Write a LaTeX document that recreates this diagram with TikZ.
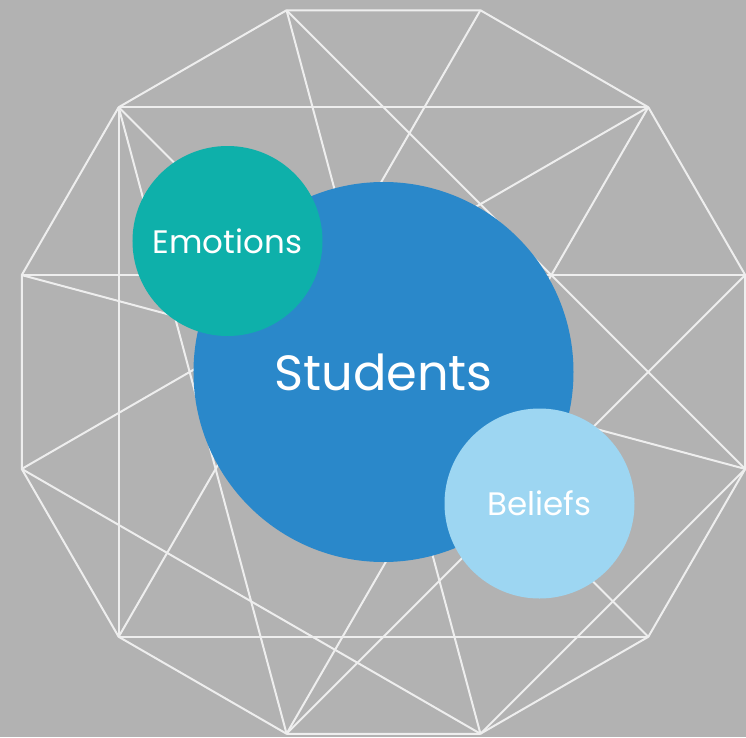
\documentclass[tikz,border=0pt]{standalone}
\usepackage{fontspec}
\setmainfont{Poppins}
\usepackage{tikz}
\usepackage{xcolor}
\definecolor{backgray}{HTML}{B2B2B2}
\definecolor{webline}{HTML}{EEEEEE}
\definecolor{studentblue}{HTML}{2A88CA}
\definecolor{emotionteal}{HTML}{0EB0AA}
\definecolor{beliefblue}{HTML}{9DD6F2}
\tikzstyle{web} = [line width=2pt, color=webline, line join=round]
\tikzstyle{bubble} = [circle, inner sep=0pt, text=white]

\begin{document}
\begin{tikzpicture}[x=1pt,y=1pt]

\fill[backgray] (-383.5,-365) rectangle (362.5,372);
\useasboundingbox (-383.5,-365) rectangle (362.5,372);

%corners of the twelve-sided frame
\foreach \k in {0,...,11}
{
\coordinate (v\k) at (15+30*\k:374.5);
}

\draw[web] (v0) \foreach \k in {1,...,11} { -- (v\k) } -- cycle;

%inner chords
\foreach \a/\b in {4/1,5/0,7/10,4/7,1/6,1/8,3/11,8/0,2/7,3/9,4/8,4/10,5/11,6/9,9/11}
{
\draw[web] (v\a) -- (v\b);
}

\node[bubble, fill=studentblue, minimum size=380pt, font=\fontsize{49.5}{52}\selectfont] (students) at (0,0) {\raisebox{-3.5pt}{Students}};
\node[bubble, fill=emotionteal, minimum size=190pt, font=\fontsize{32.5}{35}\selectfont] (emotions) at (-156,131) {\raisebox{-2pt}{Emotions}};
\node[bubble, fill=beliefblue, minimum size=190pt, font=\fontsize{32.5}{35}\selectfont] (beliefs) at (156,-131.5) {\raisebox{-3pt}{Beliefs}};

\end{tikzpicture}
\end{document}
